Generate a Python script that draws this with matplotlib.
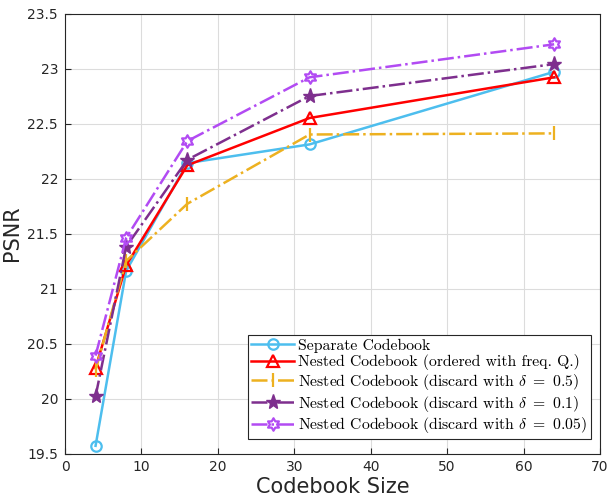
import numpy as np
import matplotlib
matplotlib.use('Agg')
from matplotlib import pyplot as plt
from matplotlib.path import Path

codebook_size = [4, 8, 16, 32, 64]
separate = [19.57, 21.16, 22.14, 22.31, 22.97]
nested_freq = [20.28, 21.21, 22.12, 22.55, 22.92]
discard_05 = [20.26, 21.25, 21.77, 22.40, 22.41]
discard_01 = [20.02, 21.38, 22.17, 22.75, 23.04]
discard_005 = [20.39, 21.46, 22.34, 22.92, 23.22]

labels = ['Separate Codebook',
          'Nested Codebook (ordered with freq. Q.)',
          r'Nested Codebook (discard with $\delta\ =\ 0.5$)',
          r'Nested Codebook (discard with $\delta\ =\ 0.1$)',
          r'Nested Codebook (discard with $\delta\ =\ 0.05$)']

plt.rcParams['mathtext.fontset'] = 'cm'


def hexagram():
    # two overlapping triangles, like MATLAB's 'h' marker
    outer = 1.0
    inner = outer / np.sqrt(3)
    verts = []
    for k in range(12):
        ang = np.pi / 2 + k * np.pi / 6
        r = outer if k % 2 == 0 else inner
        verts.append((r * np.cos(ang), r * np.sin(ang)))
    verts.append(verts[0])
    codes = [Path.MOVETO] + [Path.LINETO] * 11 + [Path.CLOSEPOLY]
    return Path(verts, codes)


fig = plt.figure(figsize=(6.07, 5.03), dpi=100)
ax = fig.add_axes([65 / 607, 1 - 453.5 / 503, 535 / 607, 440 / 503])

ax.plot(codebook_size, separate, color='#4DBEEE', lw=1.8, marker='o', ms=7.5,
        mfc='none', mew=1.6, label=labels[0])
ax.plot(codebook_size, nested_freq, color='#FF0000', lw=1.8, marker='^', ms=8.5,
        mfc='none', mew=1.6, label=labels[1])
ax.plot(codebook_size, discard_05, color='#EDB120', lw=1.8, ls='-.', marker='|',
        ms=10, mew=1.6, label=labels[2])
ax.plot(codebook_size, discard_01, color='#7E2F8E', lw=1.8, ls='-.', marker='*',
        ms=11, label=labels[3])
ax.plot(codebook_size, discard_005, color='#B24BF3', lw=1.8, ls='-.',
        marker=hexagram(), ms=9, mfc='none', mew=1.6, label=labels[4])

ax.set_xlim(0, 70)
ax.set_ylim(19.5, 23.5)
ax.set_xticks(np.arange(0, 71, 10))
ax.set_yticks(np.arange(19.5, 23.51, 0.5))
ax.set_yticklabels(['19.5', '20', '20.5', '21', '21.5', '22', '22.5', '23', '23.5'])
ax.grid(True, color='#dcdcdc', lw=0.8)
ax.set_axisbelow(True)
ax.tick_params(direction='in', length=4, labelsize=10, colors='#262626',
               top=False, right=False, pad=5)
for s in ax.spines.values():
    s.set_color('#262626')
    s.set_linewidth(0.8)

ax.set_xlabel('Codebook Size', fontsize=15, color='#262626', labelpad=2)
ax.set_ylabel('PSNR', fontsize=15, color='#262626', labelpad=4)

leg = ax.legend(loc='lower right', prop={'family': 'cmr10', 'size': 11.3},
                handlelength=2.7, handletextpad=0.25, borderpad=0.25,
                labelspacing=0.1, fancybox=False, framealpha=1,
                edgecolor='#262626', bbox_to_anchor=(0.997, 0.015))
leg.get_frame().set_linewidth(0.8)

fig.savefig('out.png', dpi=100)
